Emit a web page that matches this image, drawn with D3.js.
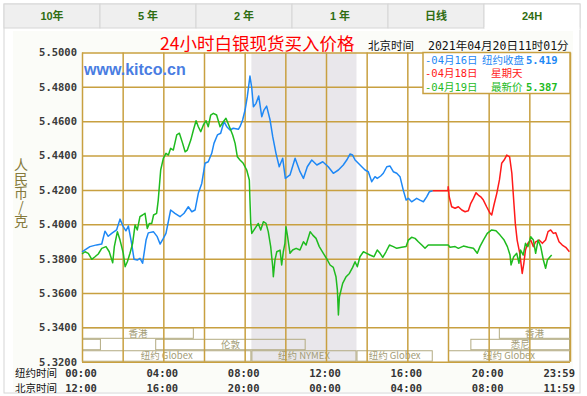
<!DOCTYPE html>
<html>
<head>
<meta charset="utf-8">
<script src="https://cdn.jsdelivr.net/npm/d3@7"></script>
<style>
body { margin: 0; background: #fff; }
</style>
</head>
<body>
<div class="chart24h"></div>
<script>
var tabLabels = ["10年", "5 年", "2 年", "1 年", "日线", "24H"];
var yTicks = [5.50, 5.48, 5.46, 5.44, 5.42, 5.40, 5.38, 5.36, 5.34, 5.32];
var gridHours = [0, 2, 4, 6, 8, 10, 12, 14, 16, 18, 20, 22, 24];
var labelHours = [0, 4, 8, 12, 16, 20, 24];
var nyTimes = ["00:00", "04:00", "08:00", "12:00", "16:00", "20:00", "23:59"];
var bjTimes = ["12:00", "16:00", "20:00", "00:00", "04:00", "08:00", "11:59"];
var nymexHours = [8.33, 13.5];

// [hour of NY day, price]
var series0416 = [[0,5.384],[0.39,5.387],[0.72,5.388],[0.97,5.3885],[1.13,5.396],[1.29,5.393],[1.46,5.3947],[1.7,5.3967],
  [1.87,5.403],[2.03,5.3986],[2.16,5.3962],[2.28,5.399],[2.44,5.3889],[2.56,5.3796],[2.72,5.3792],[2.85,5.3802],
  [2.98,5.3773],[3.15,5.3908],[3.26,5.395],[3.51,5.3957],[3.7,5.3928],[3.84,5.3885],[4.0,5.3918],[4.13,5.3947],
  [4.36,5.4083],[4.57,5.4064],[4.82,5.4044],[5.02,5.4064],[5.23,5.4102],[5.4,5.4073],[5.56,5.4083],[5.72,5.418],
  [5.89,5.4238],[6.05,5.4355],[6.21,5.4364],[6.38,5.4413],[6.49,5.4471],[6.66,5.452],[6.82,5.453],[6.98,5.4597],
  [7.12,5.4568],[7.28,5.4549],[7.44,5.4559],[7.69,5.4553],[7.77,5.4568],[7.9,5.4607],[8.02,5.4665],[8.13,5.4743],
  [8.26,5.4863],[8.35,5.4792],[8.43,5.4684],[8.56,5.4704],[8.69,5.4747],[8.84,5.4626],[8.95,5.4665],[9.08,5.4688],
  [9.25,5.4607],[9.38,5.451],[9.54,5.4413],[9.7,5.4335],[9.87,5.4384],[10,5.4267],[10.23,5.4287],[10.48,5.4384],
  [10.72,5.4306],[10.89,5.4267],[11.08,5.4335],[11.3,5.4374],[11.55,5.4345],[11.84,5.4364],[12.11,5.4335],[12.36,5.4297],
  [12.61,5.4316],[12.85,5.4345],[13.02,5.4374],[13.18,5.4409],[13.31,5.4403],[13.43,5.4374],[13.59,5.4355],[13.76,5.4335],
  [13.92,5.4316],[14.08,5.4306],[14.25,5.4248],[14.41,5.4277],[14.52,5.4267],[14.69,5.4281],[14.82,5.4297],[14.99,5.4335],
  [15.15,5.4339],[15.31,5.4306],[15.48,5.4297],[15.64,5.4277],[15.8,5.4199],[15.94,5.4141],[16.05,5.4151],[16.21,5.4131],
  [16.46,5.4151],[16.62,5.4141],[16.79,5.4131],[16.95,5.416],[17.08,5.4189],[17.25,5.4195]];

var series0418 = [[17.25,5.4195],[18.0,5.4195],[18.01,5.4219],[18.06,5.416],[18.18,5.4102],[18.35,5.4093],[18.51,5.4102],
  [18.68,5.4083],[18.84,5.4073],[19.0,5.4079],[19.12,5.4122],[19.25,5.4151],[19.38,5.4184],[19.49,5.417],[19.61,5.416],
  [19.74,5.4141],[19.9,5.4102],[20.07,5.4064],[20.15,5.4054],[20.26,5.4112],[20.4,5.418],[20.53,5.4258],[20.64,5.4355],
  [20.76,5.4374],[20.89,5.4403],[21.03,5.4393],[21.14,5.4297],[21.23,5.4141],[21.31,5.4005],[21.4,5.3908],[21.53,5.3831],
  [21.65,5.3714],[21.73,5.3773],[21.81,5.385],[21.93,5.3889],[22.07,5.3908],[22.2,5.387],[22.31,5.3898],[22.48,5.3908],
  [22.64,5.3889],[22.8,5.3908],[22.92,5.3957],[23.05,5.3967],[23.18,5.3947],[23.3,5.3951],[23.46,5.3898],[23.62,5.3879],
  [23.79,5.3866],[23.97,5.384]];

var series0419 = [[0,5.3827],[0.15,5.384],[0.31,5.3831],[0.48,5.3796],[0.64,5.3811],[0.8,5.3827],[0.97,5.386],[1.18,5.387],
  [1.34,5.384],[1.51,5.3776],[1.59,5.387],[1.74,5.3957],[1.87,5.3908],[1.95,5.387],[2.03,5.3831],[2.12,5.3753],
  [2.23,5.3782],[2.36,5.3831],[2.49,5.3889],[2.61,5.3996],[2.72,5.3967],[2.85,5.4044],[2.98,5.4054],[3.1,5.4064],
  [3.21,5.3976],[3.31,5.4005],[3.43,5.4005],[3.52,5.4054],[3.67,5.4064],[3.75,5.4141],[3.87,5.4316],[4.0,5.4384],
  [4.13,5.4413],[4.25,5.4403],[4.36,5.4442],[4.49,5.4432],[4.66,5.452],[4.79,5.453],[4.95,5.4471],[5.07,5.4422],
  [5.18,5.4432],[5.35,5.449],[5.48,5.4549],[5.61,5.4603],[5.72,5.4568],[5.84,5.4539],[5.97,5.4578],[6.1,5.4603],
  [6.21,5.4568],[6.33,5.4636],[6.46,5.4646],[6.62,5.4636],[6.79,5.4568],[6.95,5.4597],[7.08,5.4617],[7.25,5.4568],
  [7.41,5.452],[7.53,5.4471],[7.64,5.4393],[7.77,5.4374],[7.93,5.4355],[8.1,5.4316],[8.23,5.4258],[8.26,5.4141],
  [8.3,5.4005],[8.35,5.3947],[8.51,5.3976],[8.67,5.4005],[8.79,5.3967],[8.92,5.4015],[9.05,5.4005],[9.16,5.3957],
  [9.28,5.387],[9.38,5.3753],[9.41,5.3695],[9.49,5.3792],[9.58,5.384],[9.74,5.385],[9.82,5.3763],[9.9,5.384],
  [9.98,5.3889],[10.03,5.3986],[10.1,5.3937],[10.23,5.3831],[10.36,5.385],[10.53,5.386],[10.72,5.385],[10.89,5.3898],
  [11.02,5.3879],[11.22,5.3957],[11.35,5.3937],[11.51,5.3918],[11.67,5.387],[11.87,5.3831],[12.07,5.3792],[12.2,5.3763],
  [12.36,5.3749],[12.49,5.3695],[12.56,5.3617],[12.61,5.3472],[12.66,5.3578],[12.82,5.3656],[12.99,5.3695],[13.15,5.3714],
  [13.31,5.3749],[13.43,5.3782],[13.54,5.3753],[13.67,5.3811],[13.84,5.384],[14.0,5.3831],[14.16,5.3821],[14.36,5.3811],
  [14.52,5.385],[14.66,5.3831],[14.79,5.3807],[14.95,5.384],[15.12,5.3879],[15.31,5.387],[15.48,5.386],[15.72,5.3866],
  [15.94,5.387],[16.05,5.3908],[16.21,5.3924],[16.38,5.3918],[16.54,5.3898],[16.71,5.3879],[16.87,5.386],[17.03,5.3879],
  [17.28,5.3879],[18.01,5.3879],[18.1,5.3866],[18.35,5.387],[18.51,5.386],[18.76,5.3873],[19.0,5.3866],[19.25,5.386],
  [19.44,5.3831],[19.57,5.387],[19.74,5.3908],[19.93,5.3947],[20.15,5.3967],[20.36,5.3962],[20.56,5.3937],[20.76,5.3908],
  [20.92,5.387],[21.05,5.3821],[21.1,5.3763],[21.23,5.3811],[21.38,5.3831],[21.49,5.3773],[21.57,5.385],[21.7,5.3821],
  [21.81,5.3889],[21.93,5.387],[22.07,5.3928],[22.2,5.3908],[22.31,5.3831],[22.43,5.3908],[22.56,5.387],[22.69,5.3792],
  [22.8,5.3744],[22.89,5.3792],[23.02,5.3811],[23.1,5.3821]];

var legendDates = ["-04月16日", "-04月18日", "-04月19日"];
var legendNames = ["纽约收盘", "星期天", "最新价"];
var legendValues = ["5.419", "", "5.387"];

var sessionRows = ["asia", "europe", "newyork"];
var sessions = [
  { row: "asia", start: 0, end: 5.5, label: "香港" },
  { row: "asia", start: 20.5, end: 24, label: "香港" },
  { row: "europe", start: 0, end: 0.93, label: "" },
  { row: "europe", start: 3.6, end: 11, label: "伦敦" },
  { row: "europe", start: 19.1, end: 24, label: "悉尼" },
  { row: "newyork", start: 0, end: 8.33, label: "纽约 Globex" },
  { row: "newyork", start: 8.33, end: 13.5, label: "纽约 NYMEX" },
  { row: "newyork", start: 13.5, end: 17.25, label: "纽约 Globex" },
  { row: "newyork", start: 18, end: 24, label: "纽约 Globex" }
];

var seriesColors = ["#1e88f5", "#ff1a1a", "#1fbb1f"];
var gridColor = "#c8a040";
var monoFont = "'DejaVu Sans Mono', 'Noto Sans CJK SC', monospace";
var cjkFont = "'Noto Sans CJK SC', sans-serif";

function drawChart() {
	var svg = d3.select(".chart24h").append("svg")
		.attr("width", 587)
		.attr("height", 396);

	var x = d3.scaleLinear().domain([0, 24]).range([82, 570]);
	var y = d3.scaleLinear().domain([5.32, 5.50]).range([361.7, 52.5]);

	// tabs + frame
	var tabs = d3.scaleBand().domain(tabLabels).range([4, 580]);
	svg.append("rect").attr("x", 4).attr("y", 4).attr("width", 576).attr("height", 389)
		.attr("fill", "#fff").attr("stroke", "#d6d6d6");
	svg.selectAll(".tab").data(tabLabels).enter().append("rect")
		.attr("class", "tab")
		.attr("x", function (d) { return tabs(d); })
		.attr("y", 4)
		.attr("width", tabs.bandwidth())
		.attr("height", 24)
		.attr("fill", function (d, i) { return i == tabLabels.length - 1 ? "#fff" : "#efefef"; })
		.attr("stroke", "#d6d6d6");
	svg.append("rect").attr("x", tabs("24H") + 0.5).attr("y", 27).attr("width", tabs.bandwidth() - 1).attr("height", 3).attr("fill", "#fff");
	svg.selectAll(".tabText").data(tabLabels).enter().append("text")
		.attr("x", function (d) { return tabs(d) + tabs.bandwidth() / 2; })
		.attr("y", 20)
		.attr("text-anchor", "middle")
		.attr("font-family", "'Liberation Sans', " + cjkFont)
		.attr("font-weight", "bold")
		.attr("font-size", 11)
		.attr("fill", "#2f6d12")
		.text(function (d) { return d; });

	svg.append("rect").attr("x", 13).attr("y", 31).attr("width", 560).attr("height", 361).attr("fill", "#fbfcf8");
	svg.append("rect").attr("x", x(0)).attr("y", y(5.5)).attr("width", x(24) - x(0)).attr("height", y(5.32) - y(5.5)).attr("fill", "#fff");

	// NYMEX shade
	svg.append("rect")
		.attr("x", x(nymexHours[0]))
		.attr("y", y(5.5))
		.attr("width", x(nymexHours[1]) - x(nymexHours[0]))
		.attr("height", y(5.32) - y(5.5))
		.attr("fill", "#e9e7eb");

	// trading sessions
	var rows = d3.scaleBand().domain(sessionRows).range([y(5.34), y(5.32)]);
	svg.selectAll(".session").data(sessions).enter().append("rect")
		.attr("x", function (d) { return x(d.start) + 0.5; })
		.attr("y", function (d) { return rows(d.row) + 0.5; })
		.attr("width", function (d) { return x(d.end) - x(d.start) - 1; })
		.attr("height", rows.bandwidth() - 1)
		.attr("fill", "none")
		.attr("stroke", "#b3ab82");
	svg.selectAll(".sessionText").data(sessions).enter().append("text")
		.attr("x", function (d) { return (x(d.start) + x(d.end)) / 2; })
		.attr("y", function (d) { return rows(d.row) + rows.bandwidth() / 2 + 3.5; })
		.attr("text-anchor", "middle")
		.attr("font-family", cjkFont)
		.attr("font-size", 9.5)
		.attr("fill", "#a39c76")
		.text(function (d) { return d.label; });

	// grid
	var yAxis = d3.axisLeft(y)
		.tickValues(yTicks)
		.tickSize(-(x(24) - x(0)))
		.tickPadding(5)
		.tickFormat(d3.format(".4f"));
	var gy = svg.append("g").attr("transform", "translate(" + x(0) + ",0)").call(yAxis);
	gy.select(".domain").remove();
	gy.selectAll("line").attr("stroke", gridColor).attr("stroke-width", 1.5);
	gy.selectAll("text")
		.attr("font-family", monoFont)
		.attr("font-weight", "bold")
		.attr("font-size", 10.5)
		.attr("fill", "#3a3a3a");

	var xGrid = d3.axisBottom(x)
		.tickValues(gridHours)
		.tickSize(-(y(5.32) - y(5.5)))
		.tickFormat("");
	var gx = svg.append("g").attr("transform", "translate(0," + y(5.32) + ")").call(xGrid);
	gx.select(".domain").remove();
	gx.selectAll("line").attr("stroke", gridColor).attr("stroke-width", 1.5);

	// price lines
	var line = d3.line()
		.x(function (d) { return x(d[0]); })
		.y(function (d) { return y(d[1]); });
	[series0416, series0418, series0419].forEach(function (s, i) {
		svg.append("path")
			.datum(s)
			.attr("d", line)
			.attr("fill", "none")
			.attr("stroke", seriesColors[i])
			.attr("stroke-width", 1.5)
			.attr("stroke-linejoin", "round");
	});

	// legend
	svg.append("rect")
		.attr("x", 423).attr("y", y(5.5))
		.attr("width", x(24) - 423).attr("height", 41)
		.attr("fill", "#fff")
		.attr("stroke", gridColor)
		.attr("stroke-width", 1.5);
	var legend = svg.selectAll(".legend").data(legendDates).enter().append("g")
		.attr("transform", function (d, i) { return "translate(425," + (63.5 + i * 13.5) + ")"; });
	legend.append("text")
		.attr("font-family", monoFont).attr("font-size", 10.5)
		.attr("fill", function (d, i) { return seriesColors[i]; })
		.text(function (d) { return d; });
	legend.append("text")
		.attr("x", function (d, i) { return i == 0 ? 57 : 66; })
		.attr("font-family", cjkFont).attr("font-size", 10.5)
		.attr("fill", function (d, i) { return seriesColors[i]; })
		.text(function (d, i) { return legendNames[i]; });
	legend.append("text")
		.attr("x", 101)
		.attr("font-family", monoFont).attr("font-size", 10.5).attr("font-weight", "bold")
		.attr("fill", function (d, i) { return seriesColors[i]; })
		.text(function (d, i) { return legendValues[i]; });

	// titles
	svg.append("text").attr("x", 160).attr("y", 50)
		.attr("font-family", cjkFont).attr("font-size", 17.5).attr("fill", "#ff0000")
		.text("24小时白银现货买入价格");
	svg.append("text").attr("x", 368).attr("y", 50)
		.attr("font-family", cjkFont).attr("font-size", 11.5).attr("fill", "#111")
		.text("北京时间");
	svg.append("text").attr("x", 428).attr("y", 50)
		.attr("font-family", monoFont).attr("font-size", 11.5).attr("fill", "#111")
		.text("2021年04月20日11时01分");
	svg.append("text").attr("x", 84).attr("y", 75)
		.attr("font-family", "'Liberation Sans', sans-serif").attr("font-size", 16).attr("font-weight", "bold")
		.attr("fill", "#4a7de2")
		.text("www.kitco.cn");

	// unit, written top to bottom
	svg.append("text")
		.attr("x", 21)
		.attr("y", 158)
		.style("writing-mode", "vertical-rl")
		.style("text-orientation", "upright")
		.attr("font-family", cjkFont).attr("font-size", 14).attr("fill", "#857a3c")
		.text("人民币/克");

	// time axis labels
	[nyTimes, bjTimes].forEach(function (labels, r) {
		svg.append("text").attr("x", 15).attr("y", 377 + r * 15)
			.attr("font-family", cjkFont).attr("font-size", 10.5).attr("fill", "#111")
			.text(r == 0 ? "纽约时间" : "北京时间");
		svg.selectAll(".t" + r).data(labels).enter().append("text")
			.attr("x", function (d, i) { return i == labels.length - 1 ? x(labelHours[i]) + 5 : x(labelHours[i]) - 1; })
			.attr("y", 377 + r * 15)
			.attr("text-anchor", function (d, i) { return i == labels.length - 1 ? "end" : "middle"; })
			.attr("font-family", monoFont).attr("font-weight", "bold").attr("font-size", 10.5)
			.attr("fill", "#333")
			.text(function (d) { return d; });
	});
}

drawChart();
</script>
</body>
</html>
